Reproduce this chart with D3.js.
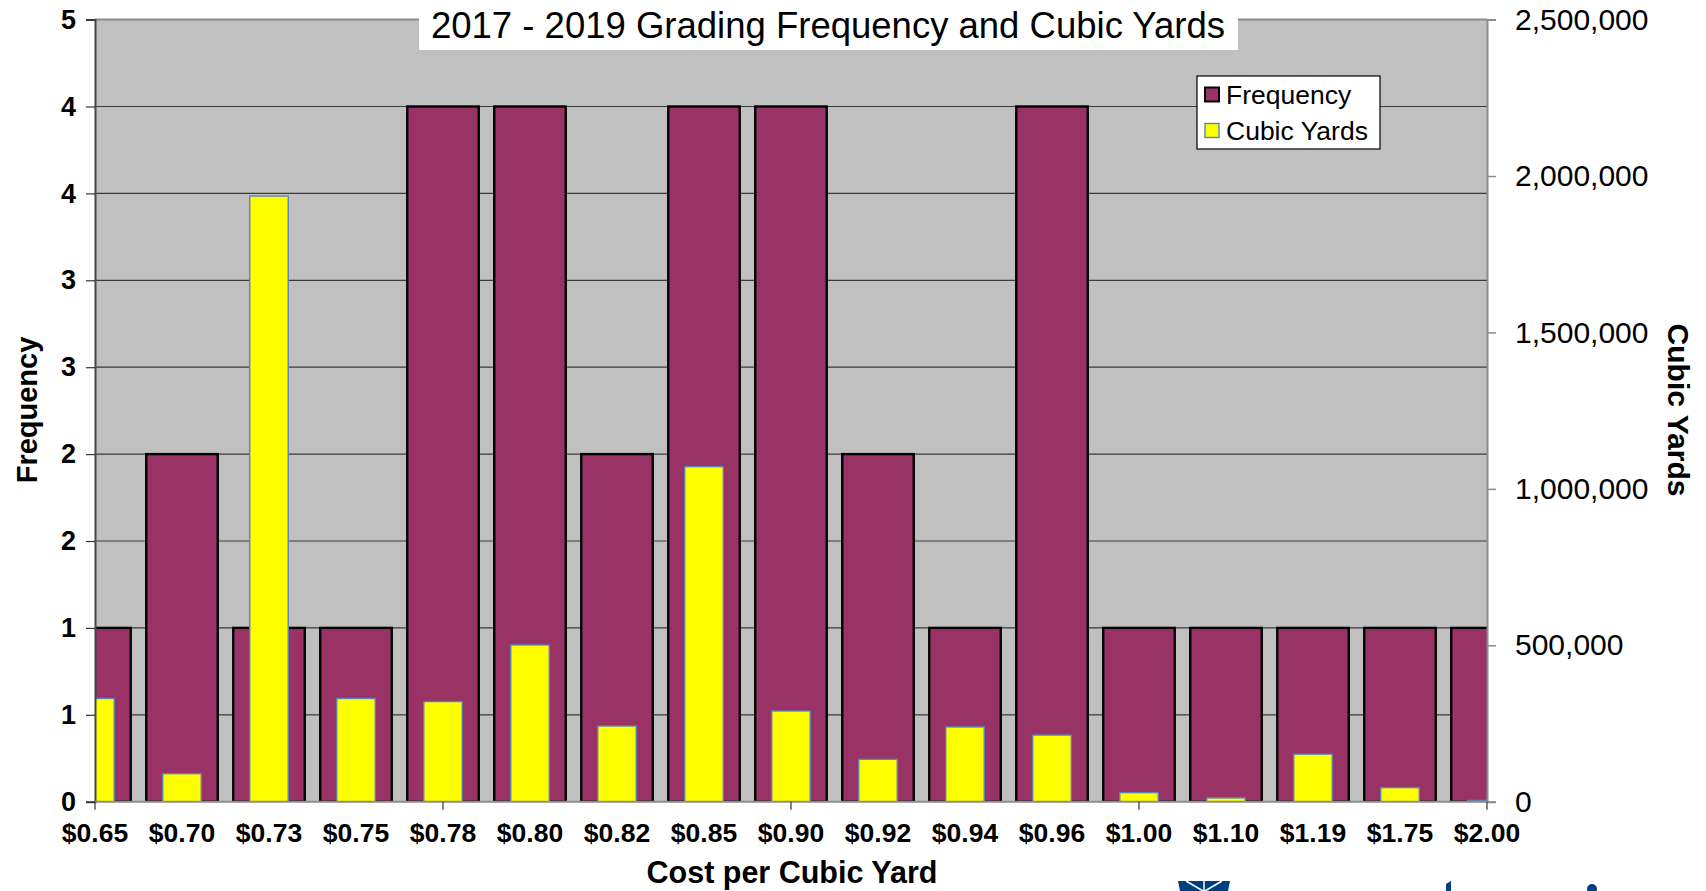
<!DOCTYPE html>
<html lang="en">
<head>
<meta charset="utf-8">
<title>2017 - 2019 Grading Frequency and Cubic Yards</title>
<style>
    body { margin: 0; background: #fff; }
    svg { display: block; font-family: Arial, "Liberation Sans", sans-serif; }
    .grid line { stroke: #3a3a3a; stroke-width: 1.2; }
    .axis text { fill: #000; }
</style>
</head>
<body>
<div id="chart"></div>
<script src="https://cdn.jsdelivr.net/npm/d3@7"></script>
<script>
// chart data
const categories = ["$0.65", "$0.70", "$0.73", "$0.75", "$0.78", "$0.80", "$0.82", "$0.85", "$0.90",
    "$0.92", "$0.94", "$0.96", "$1.00", "$1.10", "$1.19", "$1.75", "$2.00"];
const frequency = [1, 2, 1, 1, 4, 4, 2, 4, 4, 2, 1, 4, 1, 1, 1, 1, 1];
const cubicYards = [330000, 89500, 1936000, 330000, 320000, 501000, 242000, 1071000, 290000,
    135500, 239000, 213000, 29000, 12000, 152000, 45000, 4000];
const freqTicks = [0, 0.5, 1, 1.5, 2, 2.5, 3, 3.5, 4, 4.5];
const yardTicks = [0, 500000, 1000000, 1500000, 2000000, 2500000];
const xTickCats = ["$0.65", "$0.78", "$0.90", "$1.00", "$2.00"];

const W = 1706, H = 891;
const plot = {left: 95, right: 1487, top: 19.6, bottom: 801.7};

const svg = d3.select('#chart').append('svg')
    .attr('width', W)
    .attr('height', H);

const x = d3.scalePoint()
    .domain(categories)
    .range([plot.left, plot.right]);

const yFreq = d3.scaleLinear()
    .domain([0, 4.5])
    .range([plot.bottom, plot.top]);

const yYards = d3.scaleLinear()
    .domain([0, 2500000])
    .range([plot.bottom, plot.top]);

// plot background
svg.append('rect')
    .attr('x', plot.left).attr('y', plot.top)
    .attr('width', plot.right - plot.left)
    .attr('height', plot.bottom - plot.top)
    .attr('fill', '#c0c0c0');

// gridlines on the frequency ticks
svg.append('g')
    .attr('class', 'grid')
    .selectAll('line')
    .data(freqTicks.filter(d => d > 0 && d < 4.5))
    .join('line')
        .attr('x1', plot.left).attr('x2', plot.right)
        .attr('y1', d => yFreq(d)).attr('y2', d => yFreq(d));

// top border
svg.append('line')
    .attr('x1', plot.left).attr('x2', plot.right)
    .attr('y1', plot.top).attr('y2', plot.top)
    .attr('stroke', '#8c8c8c').attr('stroke-width', 2);

svg.append('clipPath').attr('id', 'clip')
    .append('rect')
        .attr('x', plot.left).attr('y', plot.top - 2)
        .attr('width', plot.right - plot.left)
        .attr('height', plot.bottom - plot.top + 2);

const bars = svg.append('g').attr('clip-path', 'url(#clip)');
const freqWidth = 71.5, yardWidth = 38.5;

bars.selectAll('rect.freq')
    .data(categories)
    .join('rect')
        .attr('class', 'freq')
        .attr('x', d => x(d) - freqWidth / 2)
        .attr('width', freqWidth)
        .attr('y', (d, i) => yFreq(frequency[i]))
        .attr('height', (d, i) => yFreq(0) - yFreq(frequency[i]))
        .attr('fill', '#993366')
        .attr('stroke', '#000')
        .attr('stroke-width', 2.4);

bars.selectAll('rect.yards')
    .data(categories)
    .join('rect')
        .attr('class', 'yards')
        .attr('x', d => x(d) - yardWidth / 2)
        .attr('width', yardWidth)
        .attr('y', (d, i) => yYards(cubicYards[i]))
        .attr('height', (d, i) => yYards(0) - yYards(cubicYards[i]))
        .attr('fill', '#ffff00')
        .attr('stroke', '#5b82bb')
        .attr('stroke-width', 1.4);

// left axis (frequency)
const leftAxis = svg.append('g')
    .attr('class', 'axis')
    .attr('transform', `translate(${plot.left}, 0)`)
    .call(d3.axisLeft(yFreq)
        .tickValues(freqTicks)
        .tickFormat(d => Math.round(d))
        .tickSize(9)
        .tickPadding(10));
leftAxis.select('.domain').attr('stroke', '#444').attr('stroke-width', 2);
leftAxis.selectAll('.tick line').attr('stroke', '#333').attr('stroke-width', 1.2);
leftAxis.selectAll('.tick text')
    .attr('font-size', 27).attr('font-weight', 'bold')
    .attr('font-family', 'Arial, "Liberation Sans", sans-serif');

// right axis (cubic yards)
const rightAxis = svg.append('g')
    .attr('class', 'axis')
    .attr('transform', `translate(${plot.right}, 0)`)
    .call(d3.axisRight(yYards)
        .tickValues(yardTicks)
        .tickFormat(d3.format(','))
        .tickSize(9)
        .tickPadding(19));
rightAxis.select('.domain').attr('stroke', '#8c8c8c').attr('stroke-width', 2);
rightAxis.selectAll('.tick line').attr('stroke', '#8c8c8c').attr('stroke-width', 1.5);
rightAxis.selectAll('.tick text')
    .attr('font-size', 30)
    .attr('font-family', 'Arial, "Liberation Sans", sans-serif');

// bottom axis
svg.append('line')
    .attr('x1', plot.left).attr('x2', plot.right)
    .attr('y1', plot.bottom).attr('y2', plot.bottom)
    .attr('stroke', '#8c8c8c').attr('stroke-width', 2);

svg.append('g')
    .selectAll('line')
    .data(xTickCats)
    .join('line')
        .attr('x1', d => x(d)).attr('x2', d => x(d))
        .attr('y1', plot.bottom).attr('y2', plot.bottom + 8)
        .attr('stroke', '#333').attr('stroke-width', 1.2);

svg.append('g')
    .selectAll('text')
    .data(categories)
    .join('text')
        .attr('x', d => x(d))
        .attr('y', 842)
        .attr('text-anchor', 'middle')
        .attr('font-size', 26.5)
        .attr('font-weight', 'bold')
        .text(d => d);

// axis titles
svg.append('text')
    .attr('transform', 'translate(37, 410) rotate(-90)')
    .attr('text-anchor', 'middle')
    .attr('font-size', 29)
    .attr('font-weight', 'bold')
    .text('Frequency');

svg.append('text')
    .attr('transform', 'translate(1668, 410) rotate(90)')
    .attr('text-anchor', 'middle')
    .attr('font-size', 30)
    .attr('font-weight', 'bold')
    .text('Cubic Yards');

svg.append('text')
    .attr('x', 792)
    .attr('y', 883)
    .attr('text-anchor', 'middle')
    .attr('font-size', 30.5)
    .attr('font-weight', 'bold')
    .text('Cost per Cubic Yard');

// title with white box
svg.append('rect')
    .attr('x', 419).attr('y', 0)
    .attr('width', 819).attr('height', 50)
    .attr('fill', '#fff');
svg.append('text')
    .attr('x', 828)
    .attr('y', 37.5)
    .attr('text-anchor', 'middle')
    .attr('font-size', 36.5)
    .text('2017 - 2019 Grading Frequency and Cubic Yards');

// legend
const legend = svg.append('g').attr('transform', 'translate(1197, 76)');
legend.append('rect')
    .attr('width', 183).attr('height', 73)
    .attr('fill', '#fff')
    .attr('stroke', '#000').attr('stroke-width', 1.2);
const legendItems = [
    {label: 'Frequency', fill: '#993366', stroke: '#000', sw: 2},
    {label: 'Cubic Yards', fill: '#ffff00', stroke: '#5b82bb', sw: 1.4}
];
const li = legend.selectAll('g.item')
    .data(legendItems)
    .join('g')
        .attr('class', 'item')
        .attr('transform', (d, i) => `translate(0, ${18.5 + i * 36})`);
li.append('rect')
    .attr('x', 8).attr('y', -7)
    .attr('width', 14).attr('height', 14)
    .attr('fill', d => d.fill)
    .attr('stroke', d => d.stroke)
    .attr('stroke-width', d => d.sw);
li.append('text')
    .attr('x', 29).attr('y', 9.5)
    .attr('font-size', 26.5)
    .text(d => d.label);

// cropped logo at the bottom edge
const logo = svg.append('g').attr('fill', '#003f80');
logo.append('path').attr('d', 'M1178,881 L1230,881 L1228,891 L1180,891 Z');
logo.append('path')
    .attr('d', 'M1186,881 L1203,891 M1222,881 L1205,891 M1204,881 L1204,891')
    .attr('stroke', '#fff').attr('stroke-width', 1.5).attr('fill', 'none');
logo.append('path').attr('d', 'M1446,891 L1446,884 L1451,881 L1451,891 Z');
logo.append('circle').attr('cx', 1592).attr('cy', 889).attr('r', 5);
</script>
</body>
</html>
